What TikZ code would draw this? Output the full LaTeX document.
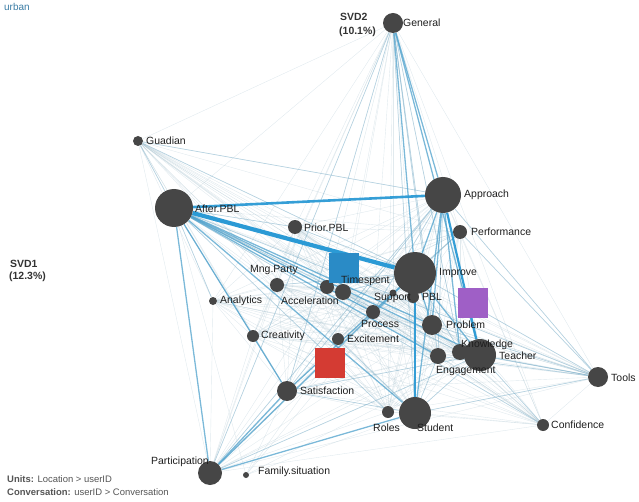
\documentclass[tikz,border=0pt]{standalone}
\usepackage{fontspec}
\setmainfont{Liberation Sans}
\definecolor{nodegray}{HTML}{464646}
\definecolor{labelcol}{HTML}{1E1E1E}
\definecolor{axiscol}{HTML}{333333}
\definecolor{footcol}{HTML}{555555}
\definecolor{urbancol}{HTML}{3A7CA5}
\definecolor{thincol}{HTML}{A8C2CE}
\definecolor{lightcol}{HTML}{79AFCB}
\definecolor{midcol}{HTML}{4AA0CC}
\definecolor{thickcol}{HTML}{2B9AD5}
\definecolor{bluesq}{HTML}{2A8BC6}
\definecolor{redsq}{HTML}{D43B33}
\definecolor{purplesq}{HTML}{9F5FC6}
\pgfdeclarelayer{edges}
\pgfsetlayers{edges,main}
\begin{document}
\begin{tikzpicture}[x=1bp,y=-1bp,
  dot/.style={circle,fill=nodegray,draw=none,inner sep=0pt,minimum size=#1bp},
  sq/.style={rectangle,fill=#1,draw=none,inner sep=0pt,minimum size=30bp},
  lbl/.style={anchor=west,inner sep=0pt,font=\fontsize{10.5}{12}\selectfont,text=labelcol},
  axlbl/.style={anchor=west,inner sep=0pt,font=\bfseries\fontsize{10.5}{12}\selectfont,text=axiscol},
  foot/.style={anchor=west,inner sep=0pt,font=\fontsize{9.5}{11}\selectfont,text=footcol},
  ezero/.style={draw=thincol,line width=0.4bp,opacity=0.35},
  eone/.style={draw=lightcol,line width=0.7bp,opacity=0.45},
  etwo/.style={draw=midcol,line width=1.3bp,opacity=0.7},
  ethree/.style={draw=thickcol,line width=2.6bp,opacity=0.95},
  efour/.style={draw=thickcol,line width=4.2bp}]
\useasboundingbox (0,0) rectangle (639,502);
% nodes
\node[dot=20] (gen) at (393,23) {};
\node[dot=10] (gua) at (138,141) {};
\node[dot=38] (aft) at (174,208) {};
\node[dot=36] (app) at (443,195) {};
\node[dot=14] (pri) at (295,227) {};
\node[dot=14] (per) at (460,232) {};
\node[dot=42] (imp) at (415,273) {};
\node[dot=12] (pbl) at (413,297) {};
\node[dot=14] (mng) at (277,285) {};
\node[dot=14] (acc) at (327,287) {};
\node[dot=16] (tim) at (343,292) {};
\node[dot=8] (ana) at (213,301) {};
\node[dot=7] (sup) at (393,293) {};
\node[dot=14] (pro) at (373,312) {};
\node[dot=20] (prb) at (432,325) {};
\node[dot=16] (kno) at (460,352) {};
\node[dot=32] (tea) at (480,355) {};
\node[dot=16] (eng) at (438,356) {};
\node[dot=20] (too) at (598,377) {};
\node[dot=12] (con) at (543,425) {};
\node[dot=32] (stu) at (415,413) {};
\node[dot=12] (rol) at (388,412) {};
\node[dot=20] (sat) at (287,391) {};
\node[dot=12] (exc) at (338,339) {};
\node[dot=12] (cre) at (253,336) {};
\node[dot=24] (par) at (210,473) {};
\node[dot=6] (fam) at (246,475) {};
% edges
\begin{pgfonlayer}{edges}
\def\allnodes{gen,gua,aft,app,pri,per,imp,pbl,mng,acc,tim,ana,sup,pro,prb,kno,tea,eng,too,con,stu,rol,sat,exc,cre,par}
\foreach \a [count=\i] in \allnodes {
  \foreach \b [count=\j] in \allnodes {
    \ifnum\j>\i \draw[ezero] (\a) -- (\b);\fi
  }
}
\foreach \b in {aft,imp,app,stu,tea,sat}
  \draw[ezero] (fam) -- (\b);
\foreach \a/\b in {gen/stu,gen/prb,gen/par,gen/sat,gen/eng,gen/kno,
  too/tea,too/aft,too/app,too/imp,too/stu,too/eng,too/kno,too/per,too/prb,
  con/tea,con/aft,gua/aft,gua/imp,gua/app,cre/sat,cre/aft,
  exc/stu,par/tea,par/app,stu/tea,stu/eng,sat/tea,sat/app,sat/stu,
  mng/imp,acc/imp,tim/imp,pri/imp,pri/aft,per/imp,
  pro/aft,pro/app,rol/aft,kno/aft,kno/imp,eng/app,ana/aft}
  \draw[eone] (\a) -- (\b);
\foreach \a/\b in {gen/app,gen/imp,gen/tea,app/imp,app/prb,app/stu,aft/stu,aft/sat,aft/tea,
  aft/prb,aft/eng,aft/pro,par/stu,par/sat,par/imp,par/aft,sat/imp,imp/prb,imp/tea,app/kno}
  \draw[etwo] (\a) -- (\b);
\draw[ethree] (aft) -- (app);
\draw[ethree] (imp) -- (stu);
\draw[ethree,line width=2.2bp] (app) -- (tea);
\draw[efour] (aft) -- (imp);
\end{pgfonlayer}
% squares
\node[sq=bluesq] (sqb) at (344,268) {};
\node[sq=redsq] (sqr) at (330,363) {};
\node[sq=purplesq] (sqp) at (473,303) {};
% labels
\node[lbl] (genL) at (403,23) {General};
\node[axlbl] (svd2a) at (340,17) {SVD2};
\node[axlbl] (svd2b) at (339,32) {(10.1\%)};
\node[axlbl] (svd1a) at (10,264) {SVD1};
\node[axlbl] (svd1b) at (9,277) {(12.3\%)};
\node[lbl] (guaL) at (146,141) {Guadian};
\node[lbl] (aftL) at (195,209) {After.PBL};
\node[lbl] (appL) at (464,195) {Approach};
\node[lbl] (priL) at (304,228) {Prior.PBL};
\node[lbl] (perL) at (471,232) {Performance};
\node[lbl] (impL) at (439,273) {Improve};
\node[lbl] (pblL) at (422,297) {PBL};
\node[lbl] (mngL) at (250,270) {Mng.Party};
\node[lbl] (timL) at (341,281) {Timespent};
\node[lbl] (accL) at (281,301) {Acceleration};
\node[lbl] (anaL) at (220,301) {Analytics};
\node[lbl] (supL) at (374,298) {Support};
\node[lbl] (proL) at (361,324) {Process};
\node[lbl] (prbL) at (446,325) {Problem};
\node[lbl] (knoL) at (461,345) {Knowledge};
\node[lbl] (teaL) at (499,356) {Teacher};
\node[lbl] (engL) at (436,371) {Engagement};
\node[lbl] (tooL) at (611,378) {Tools};
\node[lbl] (conL) at (551,425) {Confidence};
\node[lbl] (stuL) at (417,428) {Student};
\node[lbl] (rolL) at (373,428) {Roles};
\node[lbl] (satL) at (300,391) {Satisfaction};
\node[lbl] (excL) at (347,339) {Excitement};
\node[lbl] (creL) at (261,336) {Creativity};
\node[lbl] (parL) at (151,462) {Participation};
\node[lbl] (famL) at (258,472) {Family.situation};
\node[anchor=west,inner sep=0pt,font=\fontsize{10}{12}\selectfont,text=urbancol] (urb) at (4,7) {urban};
\node[foot] (units) at (7,479) {\textbf{Units:} Location > userID};
\node[foot] (conv) at (7,492) {\textbf{Conversation:} userID > Conversation};
\end{tikzpicture}
\end{document}
